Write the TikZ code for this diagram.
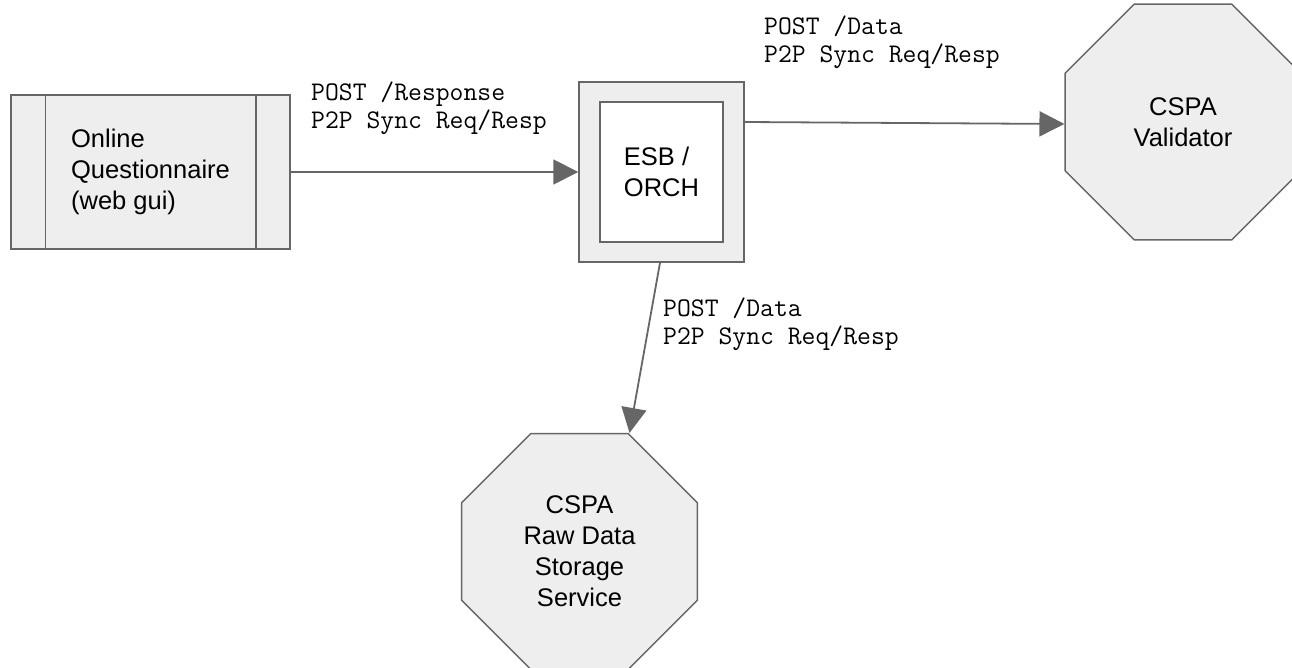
\documentclass[tikz,border=0pt]{standalone}
\usepackage{fontspec}
\setmainfont{Liberation Sans}
\definecolor{LineColor}{RGB}{102,102,102}
\definecolor{BoxColor}{RGB}{238,238,238}
\usetikzlibrary{arrows.meta, shapes.geometric, positioning}
\tikzstyle{flow} = [line width=1.8pt, LineColor, -{Triangle[length=25pt,width=25pt]}]
\tikzstyle{process} = [rectangle, draw=LineColor, line width=1.5pt, fill=BoxColor, inner sep=0pt, align=left, font=\fontsize{25.5}{31}\selectfont]
\tikzstyle{service} = [regular polygon, regular polygon sides=8, minimum size=255pt, draw=LineColor, line width=1.5pt, fill=BoxColor, inner sep=0pt, align=center, font=\fontsize{25.5}{31}\selectfont]
\tikzstyle{msg} = [anchor=base west, inner sep=0pt, align=left, font=\ttfamily\fontsize{26.9}{28}\selectfont]
\begin{document}
\begin{tikzpicture}[x=1pt, y=-1pt]
                \clip (0,0) rectangle (1292,668);
                \fill[white] (0,0) rectangle (1292,668);

                % Online questionnaire
                \node[process, minimum width=279pt, minimum height=154pt] (quest) at (150.5,172) {Online\\Questionnaire\\(web gui)};
                \draw[LineColor, line width=1.5pt] ([xshift=35pt]quest.north west) -- ([xshift=35pt]quest.south west);
                \draw[LineColor, line width=1.5pt] ([xshift=-35pt]quest.north east) -- ([xshift=-35pt]quest.south east);

                % ESB / orchestration
                \node[process, minimum width=165pt, minimum height=180pt] (esb) at (661.5,172) {};
                \node[process, fill=white, minimum width=123pt, minimum height=140pt] (orch) at (661.5,172) {ESB /\\ORCH};

                % CSPA services
                \node[service] (val) at (1183,122) {CSPA\\Validator};
                \node[service] (store) at (579.5,551.5) {CSPA\\Raw Data\\Storage\\Service};

                % Calls
                \draw[flow] (quest.east) -- (esb.west);
                \draw[flow] ([yshift=50pt]esb.east) -- ([yshift=-2pt]val.west);
                \draw[flow] ([xshift=-1.5pt]esb.south) -- ([xshift=50pt]store.north);

                \node[msg] (resp) at (311,129) {POST /Response\\P2P Sync Req/Resp};
                \node[msg] (data) at (764,63) {POST /Data\\P2P Sync Req/Resp};
                \node[msg] (raw) at (663,344) {POST /Data\\P2P Sync Req/Resp};
            \end{tikzpicture}
\end{document}
